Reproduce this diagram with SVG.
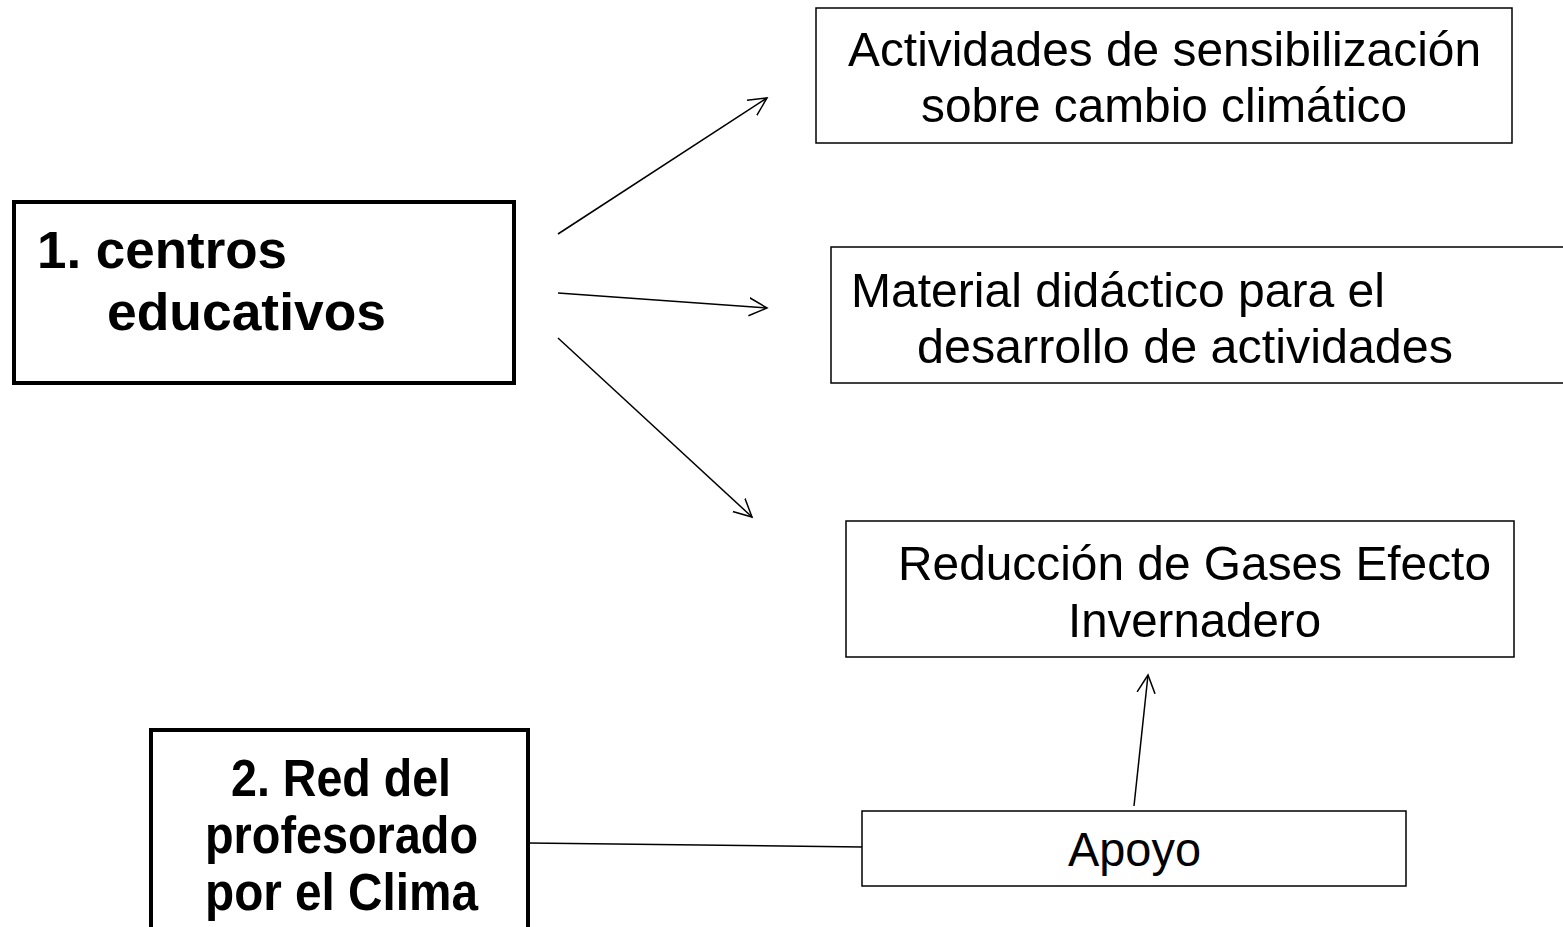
<svg xmlns="http://www.w3.org/2000/svg" width="1563" height="927" viewBox="0 0 1563 927">
<defs>
<style>
.thin{fill:#fff;stroke:#000;stroke-width:1.5}
.thick{fill:#fff;stroke:#000;stroke-width:4}
.t{font-family:"Liberation Sans",Arial,sans-serif;font-size:49px;fill:#000}
.b{font-family:"Liberation Sans",Arial,sans-serif;font-size:51px;font-weight:bold;fill:#000}
.c{fill:none;stroke:#000;stroke-width:1.5}
</style>
<marker id="ah" markerUnits="userSpaceOnUse" markerWidth="24" markerHeight="24" refX="18" refY="9" orient="auto" viewBox="0 0 24 18">
<path d="M0,0 L18,9 L0,18" fill="none" stroke="#000" stroke-width="1.5"/>
</marker>
</defs>
<rect width="1563" height="927" fill="#fff"/>
<g id="n1">
<rect class="thick" x="14" y="202" width="500" height="181"/>
<text class="b" x="37" y="268" textLength="250" lengthAdjust="spacingAndGlyphs">1. centros</text>
<text class="b" x="107" y="330" textLength="279" lengthAdjust="spacingAndGlyphs">educativos</text>
</g>
<g id="n2">
<rect class="thick" x="151" y="730" width="377" height="220"/>
<text class="b" x="231" y="796" textLength="220" lengthAdjust="spacingAndGlyphs">2. Red del</text>
<text class="b" x="205" y="853" textLength="273" lengthAdjust="spacingAndGlyphs">profesorado</text>
<text class="b" x="205" y="910" textLength="273" lengthAdjust="spacingAndGlyphs">por el Clima</text>
</g>
<g id="a1">
<rect class="thin" x="816" y="8" width="696" height="135"/>
<text class="t" x="848" y="66" textLength="633" lengthAdjust="spacingAndGlyphs">Actividades de sensibilización</text>
<text class="t" x="921" y="122" textLength="486" lengthAdjust="spacingAndGlyphs">sobre cambio climático</text>
</g>
<g id="a2">
<rect class="thin" x="831" y="247" width="760" height="136"/>
<text class="t" x="851" y="307" textLength="534" lengthAdjust="spacingAndGlyphs">Material didáctico para el</text>
<text class="t" x="917" y="363" textLength="536" lengthAdjust="spacingAndGlyphs">desarrollo de actividades</text>
</g>
<g id="a3">
<rect class="thin" x="846" y="521" width="668" height="136"/>
<text class="t" x="898" y="580" textLength="593" lengthAdjust="spacingAndGlyphs">Reducción de Gases Efecto</text>
<text class="t" x="1068" y="637" textLength="253" lengthAdjust="spacingAndGlyphs">Invernadero</text>
</g>
<g id="a4">
<rect class="thin" x="862" y="811" width="544" height="75"/>
<text class="t" x="1068" y="866" textLength="133" lengthAdjust="spacingAndGlyphs">Apoyo</text>
</g>
<g id="connectors">
<line class="c" x1="558" y1="234" x2="767" y2="98" marker-end="url(#ah)"/>
<line class="c" x1="558" y1="293" x2="767" y2="308" marker-end="url(#ah)"/>
<line class="c" x1="558" y1="338" x2="752" y2="517" marker-end="url(#ah)"/>
<line class="c" x1="1134" y1="806" x2="1148" y2="675" marker-end="url(#ah)"/>
<line class="c" x1="528" y1="843" x2="862" y2="847"/>
</g>
</svg>
